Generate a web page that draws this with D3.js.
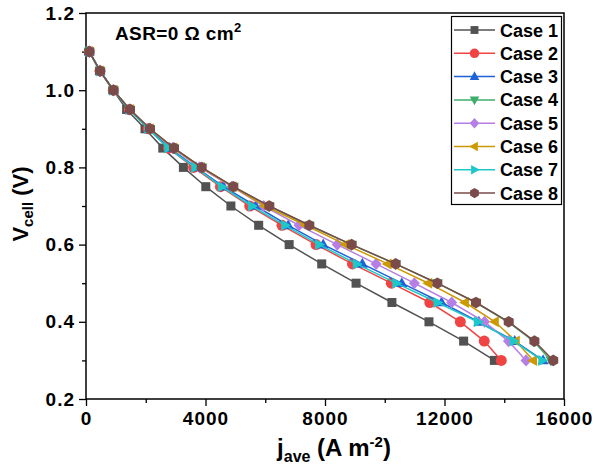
<!DOCTYPE html>
<html>
<head>
<meta charset="utf-8">
<script src="https://d3js.org/d3.v7.min.js"></script>
<style>
  body { margin: 0; background: #fff; }
  text { font-family: "Liberation Sans", Arial, sans-serif; font-weight: bold; }
</style>
</head>
<body>
<div id="chart"></div>
<script>
// cell voltage levels (V)
var voltages = [1.1, 1.05, 1.0, 0.95, 0.9, 0.85, 0.8, 0.75, 0.7, 0.65, 0.6, 0.55, 0.5, 0.45, 0.4, 0.35, 0.3];

// average current density (A m-2) for each case
var case1 = [110, 460, 910, 1360, 1975, 2570, 3260, 4010, 4850, 5780, 6800, 7890, 9040, 10240, 11480, 12640, 13670];
var case2 = [110, 470, 920, 1450, 2080, 2760, 3600, 4500, 5480, 6560, 7700, 8920, 10220, 11510, 12530, 13330, 13900];
var case3 = [110, 470, 920, 1460, 2100, 2800, 3680, 4600, 5680, 6770, 7940, 9250, 10570, 11900, 13150, 14350, 15300];
var case4 = [110, 470, 915, 1470, 2140, 2940, 3870, 4930, 6130, 7470, 8890, 10360, 11760, 13050, 14120, 14980, 15560];
var case5 = [110, 470, 915, 1465, 2130, 2900, 3800, 4880, 5950, 7130, 8410, 9710, 10990, 12240, 13340, 14140, 14730];
var case6 = [110, 470, 915, 1470, 2140, 2930, 3850, 4910, 5990, 7350, 8690, 10100, 11460, 12690, 13690, 14390, 14970];
var case7 = [110, 470, 915, 1440, 2080, 2750, 3650, 4540, 5550, 6660, 7800, 9060, 10380, 11760, 13110, 14310, 15270];
var case8 = [110, 470, 915, 1473, 2142, 2945, 3872, 4931, 6136, 7475, 8893, 10366, 11760, 13054, 14150, 15010, 15640];

var seriesNames = ["Case 1", "Case 2", "Case 3", "Case 4", "Case 5", "Case 6", "Case 7", "Case 8"];
var seriesValues = [case1, case2, case3, case4, case5, case6, case7, case8];
var colors = ["#525252", "#f04444", "#1f62d8", "#3dae6b", "#b57fe6", "#cc9a00", "#1fc8c8", "#7a4b48"];
var shapes = ["square", "circle", "up", "down", "diamond", "left", "right", "hex"];

var xTicks = [0, 4000, 8000, 12000, 16000];
var xMinor = [2000, 6000, 10000, 14000];
var yTicks = [0.2, 0.4, 0.6, 0.8, 1.0, 1.2];
var yMinor = [0.3, 0.5, 0.7, 0.9, 1.1];

var width = 595, height = 470;
var margin = {left: 86, right: 31, top: 13, bottom: 71};

var svg = d3.select("#chart").append("svg")
    .attr("width", width)
    .attr("height", height);

var x = d3.scaleLinear().domain([0, 16000]).range([margin.left, width - margin.right]);
var y = d3.scaleLinear().domain([0.2, 1.2]).range([height - margin.bottom, margin.top]);

// axes
svg.append("g")
    .attr("transform", "translate(0," + y(0.2) + ")")
    .call(d3.axisBottom(x).tickValues(xTicks).tickSize(7).tickPadding(6).tickFormat(d3.format("d")));
svg.append("g")
    .attr("transform", "translate(0," + y(0.2) + ")")
    .call(d3.axisBottom(x).tickValues(xMinor).tickSize(4).tickFormat(""));
svg.append("g")
    .attr("transform", "translate(" + x(0) + ",0)")
    .call(d3.axisLeft(y).tickValues(yTicks).tickSize(7).tickPadding(4).tickFormat(d3.format(".1f")));
svg.append("g")
    .attr("transform", "translate(" + x(0) + ",0)")
    .call(d3.axisLeft(y).tickValues(yMinor).tickSize(4).tickFormat(""));

svg.selectAll(".domain").remove();
svg.selectAll(".tick line").attr("stroke", "#000").attr("stroke-width", 1.3);
svg.selectAll(".tick text")
    .attr("fill", "#000")
    .style("font-size", "19px")
    .style("letter-spacing", "1px");

// frame
svg.append("rect")
    .attr("x", x(0))
    .attr("y", y(1.2))
    .attr("width", x(16000) - x(0))
    .attr("height", y(0.2) - y(1.2))
    .attr("fill", "none")
    .attr("stroke", "#000")
    .attr("stroke-width", 1.5);

// marker paths
function markerPath(shape, r) {
    var pts;
    if (shape == "circle") {
        return "M" + (-r) + ",0A" + r + "," + r + " 0 1,0 " + r + ",0A" + r + "," + r + " 0 1,0 " + (-r) + ",0Z";
    }
    if (shape == "square") pts = [[-r*0.82, -r*0.82], [r*0.82, -r*0.82], [r*0.82, r*0.82], [-r*0.82, r*0.82]];
    if (shape == "up") pts = [[0, -r*1.1], [r*1.0, r*0.7], [-r*1.0, r*0.7]];
    if (shape == "down") pts = [[0, r*1.1], [r*1.0, -r*0.7], [-r*1.0, -r*0.7]];
    if (shape == "left") pts = [[-r*1.1, 0], [r*0.7, -r*1.0], [r*0.7, r*1.0]];
    if (shape == "right") pts = [[r*1.1, 0], [-r*0.7, -r*1.0], [-r*0.7, r*1.0]];
    if (shape == "diamond") pts = [[0, -r*1.1], [r*1.0, 0], [0, r*1.1], [-r*1.0, 0]];
    if (shape == "hex") pts = d3.range(6).map(function(k) {
        var a = Math.PI / 6 + k * Math.PI / 3;
        return [r * 1.05 * Math.cos(a), r * 1.05 * Math.sin(a)];
    });
    return "M" + pts.map(function(p) { return p[0] + "," + p[1]; }).join("L") + "Z";
}

var line = d3.line()
    .x(function(d) { return x(d[0]); })
    .y(function(d) { return y(d[1]); });

seriesValues.forEach(function(vals, i) {
    var pts = vals.map(function(j, k) { return [j, voltages[k]]; });
    var g = svg.append("g");
    g.append("path")
        .attr("d", line(pts))
        .attr("fill", "none")
        .attr("stroke", colors[i])
        .attr("stroke-width", 1.5);
    g.selectAll(".pt")
        .data(pts)
        .enter().append("path")
        .attr("transform", function(d) { return "translate(" + x(d[0]) + "," + y(d[1]) + ")"; })
        .attr("d", markerPath(shapes[i], 5.5))
        .attr("fill", colors[i]);
});

// annotation
var ann = svg.append("text")
    .attr("x", 115)
    .attr("y", 40)
    .style("font-size", "19px")
    .style("letter-spacing", "0.4px")
    .attr("fill", "#000");
ann.append("tspan").text("ASR=0 \u03A9 cm");
ann.append("tspan").attr("dy", -8).style("font-size", "13px").text("2");

// legend
var legend = svg.append("g");
legend.append("rect")
    .attr("x", 451.5)
    .attr("y", 16.5)
    .attr("width", 110)
    .attr("height", 188)
    .attr("fill", "#fff")
    .attr("stroke", "#000")
    .attr("stroke-width", 1.2);

seriesNames.forEach(function(name, i) {
    var cy = 30 + i * 23.3;
    legend.append("line")
        .attr("x1", 454).attr("x2", 495)
        .attr("y1", cy).attr("y2", cy)
        .attr("stroke", colors[i])
        .attr("stroke-width", 1.5);
    legend.append("path")
        .attr("transform", "translate(474.5," + cy + ")")
        .attr("d", markerPath(shapes[i], 4.8))
        .attr("fill", colors[i]);
    legend.append("text")
        .attr("x", 500)
        .attr("y", cy + 6.5)
        .style("font-size", "18px")
        .attr("fill", "#000")
        .text(name);
});

// axis titles
var ylab = svg.append("text")
    .attr("transform", "translate(28,204) rotate(-90)")
    .attr("text-anchor", "middle")
    .style("font-size", "22px")
    .attr("fill", "#000");
ylab.append("tspan").text("V");
ylab.append("tspan").attr("dy", 5).style("font-size", "15px").text("cell");
ylab.append("tspan").attr("dy", -5).text(" (V)");

var xlab = svg.append("text")
    .attr("x", 334)
    .attr("y", 456)
    .attr("text-anchor", "middle")
    .style("font-size", "24px")
    .attr("fill", "#000");
xlab.append("tspan").text("j");
xlab.append("tspan").attr("dy", 6).style("font-size", "16px").text("ave");
xlab.append("tspan").attr("dy", -6).text(" (A m");
xlab.append("tspan").attr("dy", -9).style("font-size", "15px").text("-2");
xlab.append("tspan").attr("dy", 9).text(")");
</script>
</body>
</html>
